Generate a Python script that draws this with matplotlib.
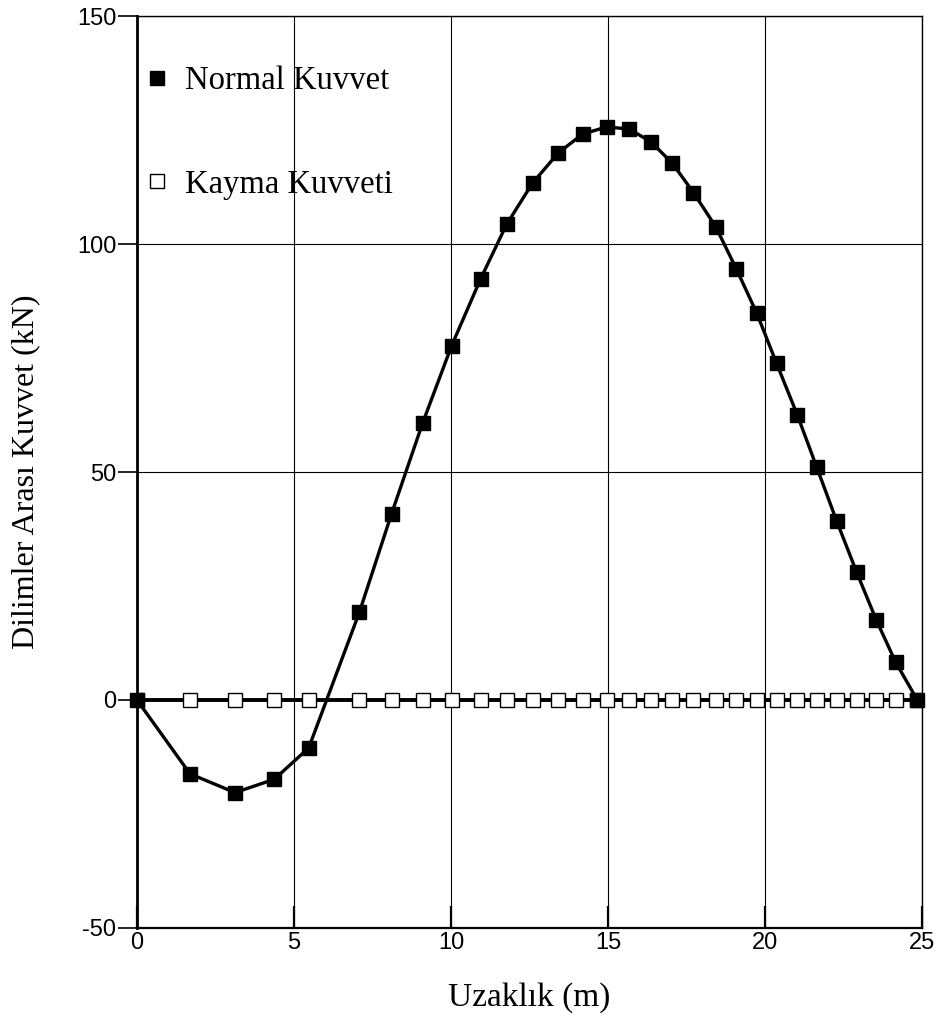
import matplotlib
matplotlib.use("Agg")
import matplotlib.pyplot as plt
from matplotlib.lines import Line2D

plt.rcParams["axes.unicode_minus"] = False

# Dilim sinirlari (m) ve dilimler arasi kuvvetler (kN)
uzaklik = [0.0, 1.69, 3.12, 4.37, 5.47, 7.08, 8.11, 9.10, 10.02, 10.94, 11.77,
           12.60, 13.42, 14.19, 14.96, 15.68, 16.37, 17.05, 17.72, 18.43,
           19.09, 19.74, 20.37, 21.03, 21.65, 22.28, 22.92, 23.54, 24.16, 24.85]
normal_kuvvet = [0.0, -16.2, -20.3, -17.4, -10.5, 19.2, 40.9, 60.8, 77.7, 92.3,
                 104.3, 113.4, 120.0, 124.1, 125.7, 125.2, 122.4, 117.7, 111.3,
                 103.8, 94.5, 84.8, 73.8, 62.5, 51.0, 39.3, 28.0, 17.6, 8.3, 0.0]
kayma_kuvveti = [0.0] * len(uzaklik)

xticks = [0, 5, 10, 15, 20, 25]
yticks = [-50, 0, 50, 100, 150]

serif = "Liberation Serif"
sans = "Liberation Sans"

fig = plt.figure(figsize=(9.37, 10.22), dpi=100)
ax = fig.add_axes([0.1462, 0.092, 0.8378, 0.8923])

ax.plot(uzaklik, kayma_kuvveti, color="black", lw=2.8, marker="s", ms=9.5,
        mfc="white", mec="black", mew=1.0, zorder=3)
ax.plot(uzaklik, normal_kuvvet, color="black", lw=2.4, marker="s", ms=9.8,
        mfc="black", mec="black", zorder=4, clip_on=False)

ax.set_xlim(0, 25)
ax.set_ylim(-50, 150)
ax.set_xticks(xticks)
ax.set_yticks(yticks)
ax.grid(True, color="black", lw=0.8)
ax.set_axisbelow(True)

for s in ax.spines.values():
    s.set_linewidth(1.0)
ax.spines["left"].set_linewidth(2.0)
ax.spines["bottom"].set_linewidth(1.6)

# x ekseni: iceri dogru cizgiler, y ekseni: disari
ax.tick_params(axis="x", direction="in", length=16, width=1.6, pad=3)
ax.tick_params(axis="y", direction="out", length=14, width=1.2, pad=1)
for lab in ax.get_xticklabels() + ax.get_yticklabels():
    lab.set_fontfamily(sans)
    lab.set_fontsize(17)

ax.set_xlabel("Uzaklık (m)", fontfamily=serif, fontsize=24, labelpad=20)
ax.set_ylabel("Dilimler Arası Kuvvet (kN)", fontfamily=serif, fontsize=23,
              labelpad=26)

handles = [
    Line2D([], [], ls="none", marker="s", ms=9.5, mfc="black", mec="black"),
    Line2D([], [], ls="none", marker="s", ms=9.5, mfc="white", mec="black", mew=1.0),
]
ax.legend(handles, ["Normal Kuvvet", "Kayma Kuvveti"], loc="upper left",
          bbox_to_anchor=(-0.028, 0.978), frameon=False,
          prop={"family": serif, "size": 23.5},
          labelspacing=2.25, handlelength=0.8, handletextpad=0.45)

fig.savefig("out.png", dpi=100)
